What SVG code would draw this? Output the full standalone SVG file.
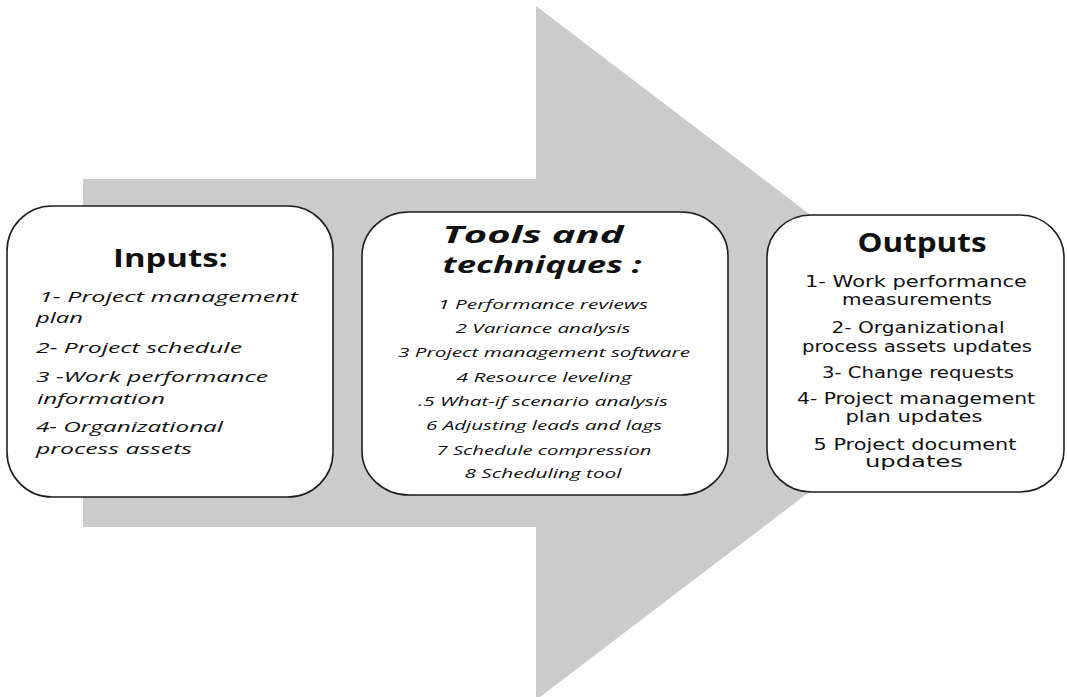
<svg xmlns="http://www.w3.org/2000/svg" width="1067" height="697" viewBox="0 0 1067 697">
  <style>
    .box { fill: #ffffff; stroke: #1e1e1e; stroke-width: 1.6; }
    .txt { fill: #111111; font-family: "Open Sans", "DejaVu Sans", sans-serif; }
    .reg { fill: #111111; font-family: "DejaVu Sans", "Open Sans", sans-serif; font-size: 15px; }
    .head { font-weight: bold; }
    .it { font-style: italic; }
    .mid { text-anchor: middle; }
  </style>

  <!-- big process arrow behind the three stages -->
  <polygon id="flow-arrow" points="83,179 536,179 536,6 992,353 536,700 536,527 83,527" fill="#cbcbcb"/>

  <!-- Inputs -->
  <g id="inputs">
    <rect class="box" x="7" y="206" width="326" height="291" rx="45" ry="45"/>
    <text class="txt head" x="113" y="267" font-size="25" textLength="115" lengthAdjust="spacingAndGlyphs">Inputs:</text>
    <g class="txt it" font-size="14.5">
      <text x="39" y="302" textLength="259" lengthAdjust="spacingAndGlyphs">1- Project management</text>
      <text x="36" y="323" textLength="47" lengthAdjust="spacingAndGlyphs">plan</text>
      <text x="36" y="353" textLength="206" lengthAdjust="spacingAndGlyphs">2- Project schedule</text>
      <text x="36" y="382" textLength="232" lengthAdjust="spacingAndGlyphs">3 -Work performance</text>
      <text x="37" y="404" textLength="128" lengthAdjust="spacingAndGlyphs">information</text>
      <text x="36" y="432" textLength="187" lengthAdjust="spacingAndGlyphs">4- Organizational</text>
      <text x="36" y="454" textLength="156" lengthAdjust="spacingAndGlyphs">process assets</text>
    </g>
  </g>

  <!-- Tools and techniques -->
  <g id="tools">
    <rect class="box" x="362" y="212" width="366" height="283" rx="47" ry="44"/>
    <g class="txt head it mid" font-size="24">
      <text x="533" y="243" textLength="181" lengthAdjust="spacingAndGlyphs">Tools and</text>
      <text x="542" y="273" textLength="199" lengthAdjust="spacingAndGlyphs">techniques :</text>
    </g>
    <g class="txt it mid" font-size="12.5">
      <text x="543" y="309" textLength="210" lengthAdjust="spacingAndGlyphs">1 Performance reviews</text>
      <text x="543" y="333" textLength="175" lengthAdjust="spacingAndGlyphs">2 Variance analysis</text>
      <text x="544" y="357" textLength="292" lengthAdjust="spacingAndGlyphs">3 Project management software</text>
      <text x="544" y="382" textLength="175" lengthAdjust="spacingAndGlyphs">4 Resource leveling</text>
      <text x="543" y="406" textLength="250" lengthAdjust="spacingAndGlyphs">.5 What-if scenario analysis</text>
      <text x="544" y="430" textLength="236" lengthAdjust="spacingAndGlyphs">6 Adjusting leads and lags</text>
      <text x="544" y="455" textLength="215" lengthAdjust="spacingAndGlyphs">7 Schedule compression</text>
      <text x="543" y="478" textLength="157" lengthAdjust="spacingAndGlyphs">8 Scheduling tool</text>
    </g>
  </g>

  <!-- Outputs -->
  <g id="outputs">
    <rect class="box" x="767" y="215" width="297" height="277" rx="44" ry="42"/>
    <text class="txt head mid" x="922" y="252" font-size="26" textLength="129" lengthAdjust="spacingAndGlyphs">Outputs</text>
    <g class="reg mid">
      <text x="916" y="287" textLength="222" lengthAdjust="spacingAndGlyphs">1- Work performance</text>
      <text x="917" y="305" textLength="150" lengthAdjust="spacingAndGlyphs">measurements</text>
      <text x="918" y="333" textLength="173" lengthAdjust="spacingAndGlyphs">2- Organizational</text>
      <text x="917" y="352" textLength="230" lengthAdjust="spacingAndGlyphs">process assets updates</text>
      <text x="918" y="378" textLength="192" lengthAdjust="spacingAndGlyphs">3- Change requests</text>
      <text x="916" y="404" textLength="238" lengthAdjust="spacingAndGlyphs">4- Project management</text>
      <text x="914" y="422" textLength="137" lengthAdjust="spacingAndGlyphs">plan updates</text>
      <text x="915" y="450" textLength="203" lengthAdjust="spacingAndGlyphs">5 Project document</text>
      <text x="914" y="467" textLength="98" lengthAdjust="spacingAndGlyphs">updates</text>
    </g>
  </g>

  <!-- no connectors beyond the arrow shape -->
  <g id="connectors"/>
</svg>
